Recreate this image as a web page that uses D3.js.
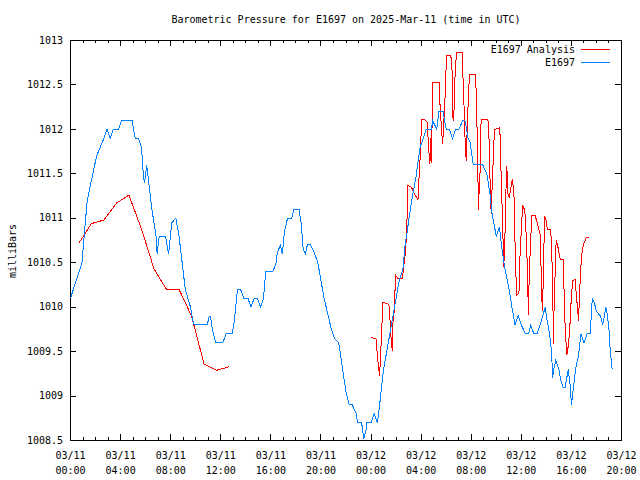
<!DOCTYPE html>
<html>
<head>
<meta charset="utf-8">
<script src="https://cdn.jsdelivr.net/npm/d3@7"></script>
<style>
  html, body { margin: 0; padding: 0; background: #fff; }
  text { font-family: "DejaVu Sans Mono", "Liberation Mono", monospace; font-size: 10px; fill: #000; }
</style>
</head>
<body>
<script>
// ---------- data ----------
const titleText = "Barometric Pressure for E1697 on 2025-Mar-11 (time in UTC)";
const yLabel = "milliBars";
const seriesNames = ["E1697 Analysis", "E1697"];
const seriesColors = ["#ff0000", "#0080ff"];

const stationTimes = [
  "03-11 00:00","03-11 00:55","03-11 01:20","03-11 02:05","03-11 02:40","03-11 02:55","03-11 03:10","03-11 03:25","03-11 03:50","03-11 04:05",
  "03-11 04:55","03-11 05:10","03-11 05:25","03-11 05:40","03-11 05:50","03-11 05:55","03-11 06:05","03-11 06:15","03-11 06:30","03-11 06:50",
  "03-11 06:55","03-11 07:05","03-11 07:35","03-11 07:50","03-11 08:05","03-11 08:25","03-11 08:40","03-11 08:55","03-11 09:10","03-11 09:35",
  "03-11 09:50","03-11 10:55","03-11 11:05","03-11 11:10","03-11 11:20","03-11 11:35","03-11 12:10","03-11 12:25","03-11 12:55","03-11 13:05",
  "03-11 13:20","03-11 13:35","03-11 13:50","03-11 14:10","03-11 14:25","03-11 14:40","03-11 14:55","03-11 15:10","03-11 15:25","03-11 15:35",
  "03-11 16:10","03-11 16:25","03-11 16:30","03-11 16:45","03-11 16:55","03-11 17:05","03-11 17:20","03-11 17:40","03-11 17:50","03-11 18:15",
  "03-11 18:25","03-11 18:35","03-11 18:45","03-11 18:55","03-11 19:10","03-11 19:30","03-11 19:45","03-11 20:00","03-11 20:15","03-11 20:30",
  "03-11 20:50","03-11 21:05","03-11 21:25","03-11 21:35","03-11 21:50","03-11 22:00","03-11 22:15","03-11 22:30","03-11 22:50","03-11 22:55",
  "03-11 23:15","03-11 23:25","03-11 23:35","03-11 23:40",
  "03-12 00:00","03-12 00:15","03-12 00:30","03-12 00:40","03-12 00:50","03-12 01:00","03-12 01:15","03-12 01:30","03-12 01:45","03-12 02:00",
  "03-12 02:15","03-12 02:35","03-12 02:40","03-12 02:50","03-12 03:05","03-12 03:20","03-12 03:35","03-12 03:55","03-12 04:10","03-12 04:25",
  "03-12 04:50","03-12 04:55","03-12 05:15","03-12 05:25","03-12 05:45","03-12 06:00","03-12 06:15","03-12 06:30","03-12 06:45","03-12 07:00",
  "03-12 07:20","03-12 07:30","03-12 07:45","03-12 07:55","03-12 08:10","03-12 08:55","03-12 09:15","03-12 09:30","03-12 09:40","03-12 09:55",
  "03-12 10:00","03-12 10:15","03-12 10:25","03-12 10:40","03-12 11:00","03-12 11:15","03-12 11:30","03-12 11:45","03-12 12:00","03-12 12:20",
  "03-12 12:35","03-12 12:45","03-12 13:00","03-12 13:15","03-12 13:30","03-12 13:55","03-12 14:00","03-12 14:15","03-12 14:25","03-12 14:30",
  "03-12 14:35","03-12 14:45","03-12 15:00","03-12 15:10","03-12 15:20","03-12 15:30","03-12 15:45","03-12 15:55","03-12 16:00","03-12 16:10",
  "03-12 16:20","03-12 16:35","03-12 16:45","03-12 17:00","03-12 17:15","03-12 17:30","03-12 17:40","03-12 17:50","03-12 18:00","03-12 18:20",
  "03-12 18:30","03-12 18:45","03-12 18:50","03-12 19:00","03-12 19:05","03-12 19:15"
];
const stationValues = [
  1010.1,1010.5,1011.2,1011.7,1011.9,1012.0,1011.9,1012.0,1012.0,1012.1,
  1012.1,1011.9,1011.9,1011.8,1011.45,1011.4,1011.6,1011.4,1011.1,1010.8,
  1010.6,1010.8,1010.8,1010.6,1010.95,1011.0,1010.8,1010.5,1010.2,1010.0,
  1009.8,1009.8,1009.9,1009.9,1009.75,1009.6,1009.6,1009.7,1009.7,1009.85,
  1010.2,1010.2,1010.1,1010.1,1010.0,1010.1,1010.1,1010.0,1010.1,1010.4,
  1010.4,1010.5,1010.6,1010.7,1010.6,1010.85,1011.0,1011.0,1011.1,1011.1,
  1010.95,1010.65,1010.6,1010.7,1010.7,1010.6,1010.5,1010.3,1010.1,1009.95,
  1009.75,1009.65,1009.6,1009.45,1009.2,1009.05,1008.9,1008.9,1008.8,1008.7,
  1008.7,1008.52,1008.6,1008.7,
  1008.7,1008.8,1008.7,1008.87,1009.1,1009.3,1009.5,1009.7,1009.9,1010.1,
  1010.3,1010.45,1010.65,1010.8,1011.05,1011.27,1011.46,1011.8,1011.9,1012.0,
  1012.0,1012.1,1012.0,1012.2,1012.2,1012.0,1012.0,1011.9,1012.0,1012.0,
  1012.1,1012.1,1011.9,1011.85,1011.6,1011.6,1011.5,1011.27,1011.05,1010.86,
  1010.8,1010.9,1010.7,1010.45,1010.22,1010.0,1009.8,1009.9,1009.8,1009.7,
  1009.7,1009.8,1009.7,1009.7,1009.8,1010.0,1009.9,1009.7,1009.5,1009.2,
  1009.3,1009.4,1009.3,1009.17,1009.1,1009.1,1009.3,1009.1,1008.9,1009.1,
  1009.3,1009.47,1009.7,1009.6,1009.7,1009.7,1010.1,1010.05,1009.95,1009.9,
  1009.8,1010.0,1009.95,1009.75,1009.55,1009.3
];

// analysis: null marks the gap in the record
const analysisTimes = [
  "03-11 00:40","03-11 01:40","03-11 02:40","03-11 03:40","03-11 04:40","03-11 05:40","03-11 06:40","03-11 07:40","03-11 08:40","03-11 09:40",
  "03-11 10:40","03-11 11:40","03-11 12:40","03-11 18:00",
  "03-12 00:00","03-12 00:25","03-12 00:30","03-12 00:37","03-12 00:41","03-12 00:49","03-12 00:54","03-12 00:57","03-12 01:21","03-12 01:29",
  "03-12 01:32","03-12 01:37","03-12 01:42","03-12 01:45","03-12 01:50","03-12 01:58","03-12 02:09","03-12 02:30","03-12 02:36","03-12 02:46",
  "03-12 02:52","03-12 02:57","03-12 03:13","03-12 03:29","03-12 03:45","03-12 03:50","03-12 03:57","03-12 04:02","03-12 04:18","03-12 04:29",
  "03-12 04:34","03-12 04:39","03-12 04:42","03-12 04:47","03-12 04:50","03-12 04:55","03-12 05:27","03-12 05:30","03-12 05:38","03-12 05:43",
  "03-12 05:47","03-12 05:54","03-12 05:59","03-12 06:03","03-12 06:19","03-12 06:27","03-12 06:32","03-12 06:36","03-12 06:44","03-12 06:52",
  "03-12 07:16","03-12 07:20","03-12 07:25","03-12 07:31","03-12 07:36","03-12 07:41","03-12 07:48","03-12 07:53","03-12 08:20","03-12 08:25",
  "03-12 08:29","03-12 08:33","03-12 08:35","03-12 08:37","03-12 08:41","03-12 08:44","03-12 08:48","03-12 09:20","03-12 09:25","03-12 09:29",
  "03-12 09:31","03-12 09:36","03-12 09:40","03-12 09:44","03-12 09:48","03-12 09:53","03-12 10:17","03-12 10:20","03-12 10:25","03-12 10:29",
  "03-12 10:33","03-12 10:36","03-12 10:41","03-12 10:44","03-12 10:49","03-12 10:52","03-12 10:56","03-12 11:02","03-12 11:08","03-12 11:13",
  "03-12 11:18","03-12 11:25","03-12 11:29","03-12 11:34","03-12 11:37","03-12 11:45","03-12 11:50","03-12 11:54","03-12 12:01","03-12 12:06",
  "03-12 12:13","03-12 12:18","03-12 12:23","03-12 12:29","03-12 12:34","03-12 12:38","03-12 12:45","03-12 12:50","03-12 13:06","03-12 13:14",
  "03-12 13:22","03-12 13:30","03-12 13:35","03-12 13:38","03-12 13:41","03-12 13:46","03-12 13:49","03-12 13:52","03-12 13:59","03-12 14:05",
  "03-12 14:21","03-12 14:26","03-12 14:30","03-12 14:34","03-12 14:37","03-12 14:42","03-12 14:47","03-12 14:53","03-12 14:58","03-12 15:06",
  "03-12 15:22","03-12 15:25","03-12 15:30","03-12 15:38","03-12 15:43","03-12 15:51","03-12 15:57","03-12 16:02","03-12 16:07","03-12 16:18",
  "03-12 16:23","03-12 16:29","03-12 16:34","03-12 16:39","03-12 16:45","03-12 16:52","03-12 16:58","03-12 17:11","03-12 17:22"
];
const analysisValues = [
  1010.72,1010.94,1010.98,1011.17,1011.26,1010.88,1010.43,1010.2,1010.2,1009.9,
  1009.36,1009.29,1009.33,null,
  1009.66,1009.64,1009.46,1009.3,1009.23,1009.62,1009.9,1010.05,1010.04,1010.0,
  1009.77,1009.62,1009.51,1009.83,1009.93,1010.36,1010.32,1010.32,1010.45,1010.64,
  1010.96,1011.37,1011.35,1011.27,1011.21,1011.46,1011.76,1012.11,1012.11,1012.08,
  1011.87,1011.69,1011.61,1011.9,1011.62,1012.53,1012.53,1012.3,1011.99,1011.84,
  1012.0,1012.33,1012.66,1012.83,1012.83,1012.79,1012.14,1012.1,1012.72,1012.87,
  1012.87,1012.62,1012.3,1011.85,1011.65,1012.02,1012.47,1012.62,1012.62,1012.36,
  1011.87,1011.35,1011.09,1011.35,1011.27,1011.93,1012.11,1012.11,1011.91,1011.61,
  1011.27,1011.05,1011.35,1011.57,1011.84,1012.0,1012.02,1011.76,1011.35,1011.05,
  1010.71,1010.45,1010.75,1011.05,1011.59,1011.52,1011.27,1011.24,1011.31,1011.39,
  1011.44,1011.24,1010.79,1010.38,1010.13,1010.15,1010.19,1010.6,1010.9,1011.15,
  1011.11,1011.05,1010.82,1010.45,1009.91,1010.38,1010.75,1011.03,1011.03,1010.97,
  1010.9,1010.82,1010.41,1010.11,1009.96,1010.38,1010.75,1011.03,1010.97,1010.87,
  1010.87,1010.6,1010.26,1009.59,1010.0,1010.38,1010.75,1010.71,1010.64,1010.54,
  1010.54,1010.15,1009.77,1009.46,1009.53,1009.7,1010.0,1010.19,1010.3,1010.31,
  1010.15,1010.0,1009.85,1010.15,1010.45,1010.64,1010.71,1010.78,1010.78
];

const timeStart = "03-11 00:00";
const timeEnd = "03-12 20:00";
const pressureRange = [1008.5, 1013];

// ---------- chart ----------
const parse = s => d3.utcParse("%Y-%m-%d %H:%M")("2025-" + s);
const W = 640, H = 480;
const L = 70, R = 621, T = 40, B = 440;

const svg = d3.select("body").append("svg").attr("width", W).attr("height", H);

const x = d3.scaleUtc().domain([parse(timeStart), parse(timeEnd)]).range([L, R]);
const y = d3.scaleLinear().domain(pressureRange).range([B, T]);

const station = stationTimes.map((t, i) => ({ t: parse(t), v: stationValues[i] }));
const analysis = analysisTimes.map((t, i) => ({ t: parse(t), v: analysisValues[i] }));

// title
svg.append("text").attr("x", 346).attr("y", 23).attr("text-anchor", "middle").text(titleText);

// y label
svg.append("text").attr("transform", "translate(16,251) rotate(-90)")
  .attr("text-anchor", "middle").text(yLabel);

// axes (ticks inward, mirrored)
const majorHours = d3.utcHour.every(4);
const minorHours = d3.utcHour.every(1);
const yTicks = y.ticks(9);
const yFmt = d => (Math.abs(d - Math.round(d)) < 1e-9 ? d3.format("d")(d) : d3.format(".1f")(d));

function styleAxis(g) {
  g.select(".domain").remove();
  g.selectAll("line").attr("stroke", "#000").attr("shape-rendering", "crispEdges");
}

svg.append("g").attr("transform", `translate(0,${B})`)
  .call(d3.axisBottom(x).ticks(minorHours).tickSize(-3).tickFormat("")).call(styleAxis);
svg.append("g").attr("transform", `translate(0,${B})`)
  .call(d3.axisBottom(x).ticks(majorHours).tickSize(-6).tickFormat("")).call(styleAxis);
svg.append("g").attr("transform", `translate(0,${T})`)
  .call(d3.axisTop(x).ticks(minorHours).tickSize(-3).tickFormat("")).call(styleAxis);
svg.append("g").attr("transform", `translate(0,${T})`)
  .call(d3.axisTop(x).ticks(majorHours).tickSize(-6).tickFormat("")).call(styleAxis);

const yl = svg.append("g").attr("transform", `translate(${L},0)`)
  .call(d3.axisLeft(y).tickValues(yTicks).tickSize(-6).tickPadding(7).tickFormat(yFmt)).call(styleAxis);
yl.selectAll("text").attr("fill", "#000").style("font-size", "10px")
  .style("font-family", "'DejaVu Sans Mono', monospace");
svg.append("g").attr("transform", `translate(${R},0)`)
  .call(d3.axisRight(y).tickValues(yTicks).tickSize(-6).tickFormat("")).call(styleAxis);

// x tick labels, two lines
const fmtDay = d3.utcFormat("%m/%d"), fmtHour = d3.utcFormat("%H:%M");
const xl = svg.append("g").selectAll("text").data(x.ticks(majorHours)).join("text")
  .attr("text-anchor", "middle")
  .attr("transform", d => `translate(${x(d) + 0.5},0)`);
xl.append("tspan").attr("x", 0).attr("y", 459).text(d => fmtDay(d));
xl.append("tspan").attr("x", 0).attr("y", 474).text(d => fmtHour(d));

// border
svg.append("rect").attr("x", L + 0.5).attr("y", T + 0.5).attr("width", R - L).attr("height", B - T)
  .attr("fill", "none").attr("stroke", "#000").attr("shape-rendering", "crispEdges");

// lines (aliased, like the reference bitmap)
const line = d3.line().defined(d => d.v != null).x(d => x(d.t) + 0.5).y(d => y(d.v) + 0.5);
svg.append("path").datum(analysis).attr("d", line)
  .attr("fill", "none").attr("stroke", seriesColors[0]).attr("stroke-width", 1)
  .attr("shape-rendering", "crispEdges");
svg.append("path").datum(station).attr("d", line)
  .attr("fill", "none").attr("stroke", seriesColors[1]).attr("stroke-width", 1)
  .attr("shape-rendering", "crispEdges");

// legend
const lg = svg.append("g").selectAll("g").data(seriesNames).join("g")
  .attr("transform", (d, i) => `translate(0,${49 + i * 13})`);
lg.append("text").attr("x", 575).attr("y", 4).attr("text-anchor", "end").text(d => d);
lg.append("line").attr("x1", 581).attr("x2", 610).attr("y1", 0.5).attr("y2", 0.5)
  .attr("stroke", (d, i) => seriesColors[i]).attr("shape-rendering", "crispEdges");
</script>
</body>
</html>
